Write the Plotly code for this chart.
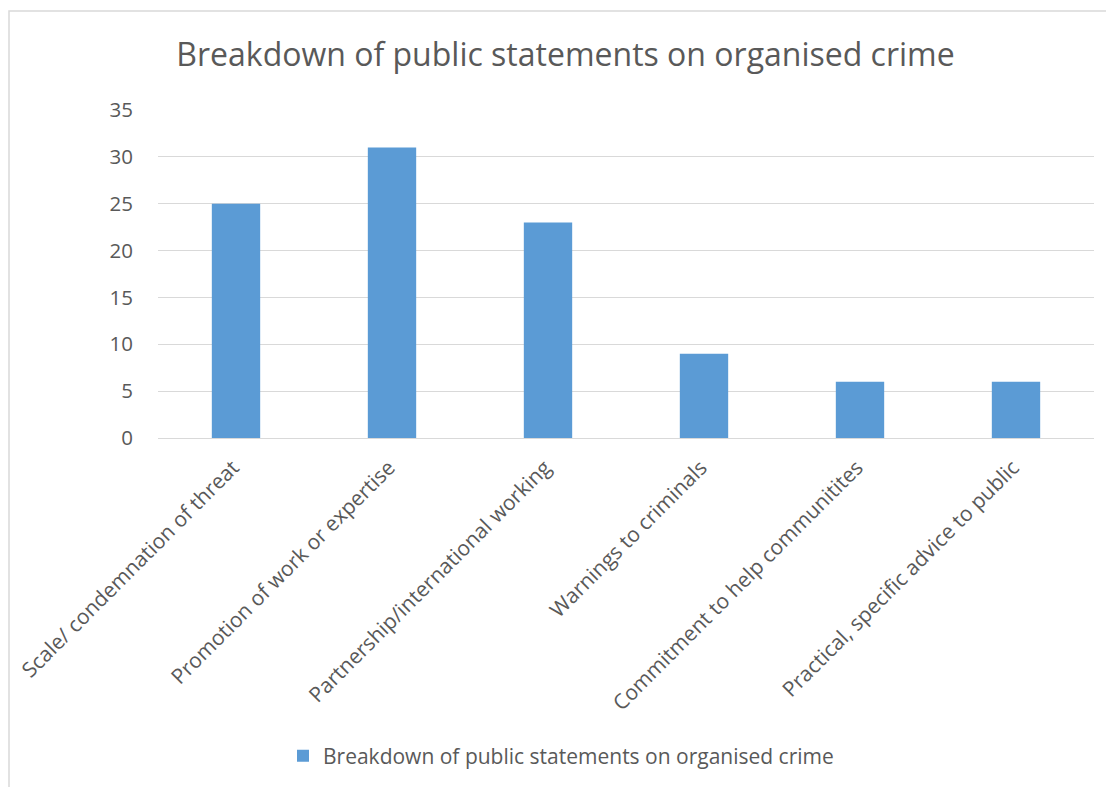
import plotly.graph_objects as go

categories = [
    "Scale/ condemnation of threat",
    "Promotion of work or expertise",
    "Partnership/international working",
    "Warnings to criminals",
    "Commitment to help communitites",
    "Practical, specific advice to public",
]
values = [25, 31, 23, 9, 6, 6]
series_name = "Breakdown of public statements on organised crime"
y_ticks = [0, 5, 10, 15, 20, 25, 30, 35]

# page body has an 8px margin, so the figure is drawn 8px in from the window edge
OFF = 8
W, H = 1106, 779
L, T = 158 - OFF, 110 - OFF
pw, ph = 936, 328
R = W - L - pw
B = H - T - ph

def px_x(p):
    return (p - OFF - L) / pw

def px_y(p):
    return (T + ph - (p - OFF)) / ph

font = "Open Sans, Liberation Sans, sans-serif"
grey = "#595959"

fig = go.Figure()
fig.add_trace(go.Bar(
    x=categories, y=values, name=series_name,
    marker=dict(color="#5B9BD5", line=dict(width=0)),
    showlegend=True,
))

fig.update_layout(
    width=W, height=H,
    margin=dict(l=L, r=R, t=T, b=B, autoexpand=False),
    paper_bgcolor="white", plot_bgcolor="white",
    bargap=0.69,
    title=dict(text="Breakdown of public statements on organised crime",
               xref="container", x=(565.5 - OFF) / W, xanchor="center",
               y=1 - (55 - OFF) / H, yanchor="middle",
               font=dict(family=font, size=32, color=grey)),
    font=dict(family=font, color=grey),
    showlegend=True,
    legend=dict(orientation="h", x=px_x(561), xanchor="center",
                y=px_y(756), yanchor="middle",
                font=dict(family=font, size=21, color=grey)),
    xaxis=dict(tickangle=-45, tickfont=dict(family=font, size=21, color=grey),
               showline=True, linecolor="#D9D9D9", linewidth=1,
               ticks="", showgrid=False, automargin=False,
               ticklabelshift=-3, ticklabelstandoff=8),
    yaxis=dict(range=[0, 35], tickvals=y_ticks, automargin=False,
               tickfont=dict(family=font, size=20.5, color=grey),
               showgrid=True, gridcolor="#D9D9D9", gridwidth=1,
               zeroline=False, showline=False, ticks="outside",
               ticklen=20, tickcolor="rgba(0,0,0,0)"),
    shapes=[dict(type="rect", xref="paper", yref="paper",
                 x0=px_x(9), x1=px_x(1130), y0=px_y(800), y1=px_y(11),
                 line=dict(color="#D9D9D9", width=1.5), layer="below")],
)

fig.write_html("out.html")
